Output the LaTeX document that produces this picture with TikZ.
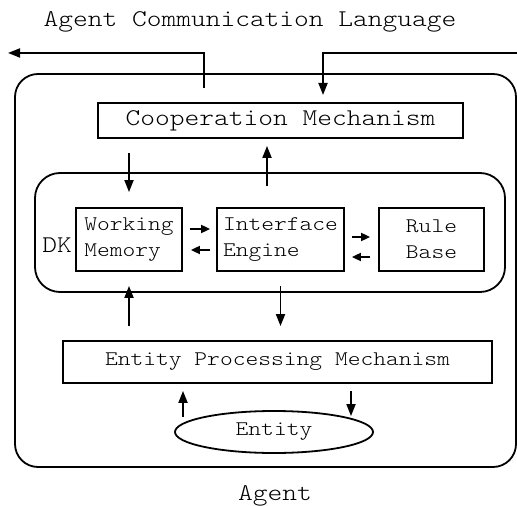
\documentclass[tikz,border=0pt]{standalone}
\usepackage{fontspec}
\newfontfamily\couriermono{lmmonolt10-regular.otf}[FakeStretch=1.17]
\usetikzlibrary{positioning,shapes.geometric,arrows.meta}

\begin{document}
\begin{tikzpicture}
        [
            x=0.5pt, y=-0.5pt, line width=0.9pt,
            bignode/.style={rectangle, draw, inner sep=2pt, font=\couriermono\fontsize{12}{14}\selectfont},
            smallnode/.style={rectangle, draw, align=left, inner sep=2pt, minimum width=53pt, minimum height=31.5pt, font=\couriermono\fontsize{10.4}{13}\selectfont},
            roundnode/.style={rectangle, draw, rounded corners=12pt},
            ellipsenode/.style={ellipse, draw, inner sep=0pt, minimum width=99pt, minimum height=21pt, font=\couriermono\fontsize{10.4}{13}\selectfont},
            plaintext/.style={font=\couriermono\fontsize{12}{14}\selectfont},
            seta/.style={-{Triangle[length=6pt,width=4.5pt]}},
            setinha/.style={-{Triangle[length=4.5pt,width=4pt]}},
        ]
        \useasboundingbox (0,0) rectangle (517,506);

        %Nodes
        \node[plaintext]        (acl)           at (250,22)     {Agent Communication Language};
        \node[roundnode, minimum width=250.5pt, minimum height=196.5pt, rounded corners=11.5pt]
                                (agent)         at (265.5,270.5) {};
        \node[plaintext]        (agentlabel)    at (275,496)    {Agent};
        \node[bignode, minimum width=182.5pt, minimum height=17.5pt]
                                (cooperation)   at (280.5,120.5) {Cooperation Mechanism};
        \node[roundnode, minimum width=235pt, minimum height=59.5pt, rounded corners=12.5pt]
                                (dk)            at (270,232.5)  {};
        \node[plaintext]        (dklabel)       at (57,245)     {DK};
        \node[smallnode]        (workingmemory) at (129,239.5)  {Working\\Memory};
        \node[smallnode, minimum width=63.5pt]
                                (interface)     at (280.5,239.5) {Interface\\Engine};
        \node[smallnode, align=center, minimum width=52.5pt]
                                (rulebase)      at (431.5,239.5) {Rule\\Base};
        \node[smallnode, minimum width=214.5pt, minimum height=21pt]
                                (processing)    at (277.5,362)  {Entity Processing Mechanism};
        \node[ellipsenode]      (entity)        at (274,432)    {Entity};

        \coordinate (aclout)  at (8,53);
        \coordinate (coopout) at (204,88);
        \coordinate (aclin)   at (517,53);
        \coordinate (coopin)  at (323,95);

        %Lines
        \draw[seta] (coopout) |- (aclout);
        \draw[seta] (aclin) -| (coopin);

        \draw[seta, shorten <=7pt, shorten >=7.5pt] (cooperation.south -| workingmemory.north) -- (workingmemory.north);
        \draw[seta, shorten <=10.5pt, shorten >=3.5pt] ([xshift=-6.75pt]interface.north) -- ([xshift=-6.75pt]interface.north |- cooperation.south);
        \draw[seta, shorten <=7pt, shorten >=7pt] (interface.south) -- (interface.south |- processing.north);
        \draw[seta, shorten <=7pt, shorten >=7pt] (processing.north -| workingmemory.south) -- (workingmemory.south);

        \draw[setinha, shorten <=3.5pt, shorten >=3pt] ([yshift=5.25pt]workingmemory.east) -- ([yshift=5.25pt]interface.west);
        \draw[setinha, shorten <=3pt, shorten >=4pt] ([yshift=-5.25pt]interface.west) -- ([yshift=-5.25pt]workingmemory.east);
        \draw[setinha, shorten <=3.5pt, shorten >=4pt] ([yshift=1.25pt]interface.east) -- ([yshift=1.25pt]rulebase.west);
        \draw[setinha, shorten <=4pt, shorten >=3.5pt] ([yshift=-8.75pt]rulebase.west) -- ([yshift=-8.75pt]interface.east);

        \draw[seta, shorten >=3.5pt] ([shift={(-45.5pt,-3.5pt)}]entity.north) -- ([xshift=-45.5pt]entity.north |- processing.south);
        \draw[seta, shorten <=3.5pt] ([xshift=38.5pt]entity.north |- processing.south) -- ([shift={(38.5pt,-3pt)}]entity.north);
    \end{tikzpicture}
\end{document}
